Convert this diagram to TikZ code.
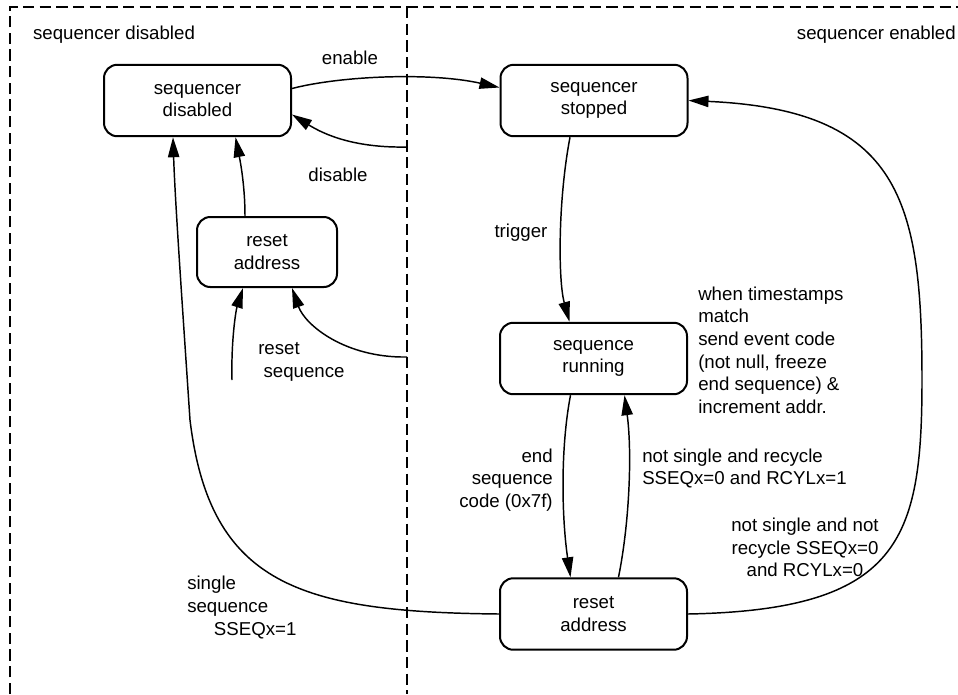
\documentclass[tikz,border=0pt]{standalone}
\usepackage{fontspec}
\setmainfont{Liberation Sans}
\usetikzlibrary{arrows.meta,calc}
\begin{document}
\begin{tikzpicture}[x=0.75pt,y=-0.75pt,
  every node/.style={font=\fontsize{14}{17}\selectfont},
  state/.style={draw, rounded corners=10pt, line width=1.5pt, minimum width=140.25pt, minimum height=53.6pt, align=center, inner sep=0pt},
  smallstate/.style={state, minimum width=105pt, minimum height=52.5pt},
  lbl/.style={inner sep=0pt},
  conn/.style={line width=1.1pt, -{Triangle[length=15pt,width=8.5pt]}},
  frame/.style={line width=1.1pt, dash pattern=on 8.5pt off 4pt}]
\useasboundingbox (0,0) rectangle (958,694);
% frame
\draw[frame] (10,694) -- (10,7) -- (958,7);
\draw[frame] (407,7) -- (407,694);
% region labels
\node[lbl] (regdis) at (114,35) {sequencer disabled};
\node[lbl, anchor=east] (regen) at (956,35) {sequencer enabled};
% states
\node[state] (b1) at (197.5,100.5) {sequencer\\disabled};
\node[state] (b2) at (594,100.5) {sequencer\\stopped};
\node[smallstate] (b3) at (267,252) {reset\\address};
\node[state] (b4) at (593.5,358.5) {sequence\\running};
\node[state] (b5) at (593.5,614) {reset\\address};
% free ends
\coordinate (d1) at (407,147);
\coordinate (d2) at (407,357);
\coordinate (r0) at (232,380);
% connectors
\draw[conn] ($(b1.east)+(0,-12)$) .. controls (340,76) and (430,72) .. ($(b2.west)+(0,-13)$);
\draw[conn] (d1) .. controls (355,148) and (325,135) .. ($(b1.east)+(0,14)$);
\draw[conn] ($(b3.north)+(-22,0)$) .. controls (245,185) and (240,160) .. ($(b1.south)+(38,0)$);
\draw[conn] (r0) .. controls (231,340) and (236,310) .. ($(b3.south)+(-24,0)$);
\draw[conn] (d2) .. controls (345,358) and (305,325) .. ($(b3.south)+(25,0)$);
\draw[conn] (b5.west) .. controls (300,612) and (210,585) .. (190,420) .. controls (182,300) and (175,200) .. ($(b1.south)+(-24.5,0)$);
\draw[conn] ($(b2.south)+(-24,0)$) .. controls (558,200) and (558,280) .. ($(b4.north)+(-24,0)$);
\draw[conn] ($(b4.south)+(-23,0)$) .. controls (560,450) and (562,520) .. ($(b5.north)+(-23,0)$);
\draw[conn] ($(b5.north)+(25,0)$) .. controls (630,520) and (632,450) .. ($(b4.south)+(31,0)$);
\draw[conn] (b5.east) .. controls (900,610) and (922,540) .. (922,380) .. controls (922,200) and (900,110) .. (b2.east);
% labels
\node[lbl] (lenable) at (350,58) {enable};
\node[lbl] (ldisable) at (338,175) {disable};
\node[lbl] (ltrigger) at (521,233) {trigger};
\node[lbl, anchor=west, align=left] (lreset) at (258,362) {reset\\\hspace{4pt}sequence};
\node[lbl, anchor=west, align=left] (lwhen) at (698,350) {when timestamps\\match\\send event code\\(not null, freeze\\end sequence) \&\\increment addr.};
\node[lbl, anchor=east, align=right] (lend) at (553,480) {end\\sequence\\code (0x7f)};
\node[lbl, anchor=west, align=left] (lrecyc) at (642,468.5) {not single and recycle\\SSEQx=0 and RCYLx=1};
\node[lbl, align=center] (lnot) at (805,547.5) {not single and not\\recycle SSEQx=0\\and RCYLx=0};
\node[lbl, anchor=west, align=left] (lsingle) at (187,607.5) {single\\sequence\\\hspace{20pt}SSEQx=1};
\end{tikzpicture}
\end{document}
